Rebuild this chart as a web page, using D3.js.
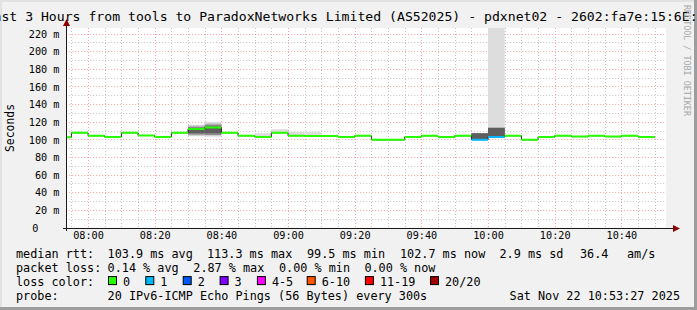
<!DOCTYPE html>
<html><head><meta charset="utf-8">
<script src="https://cdn.jsdelivr.net/npm/d3@7"></script>
<style>
body{margin:0;background:#f0f0f0}
svg{display:block}
text{font-family:"DejaVu Sans Mono",monospace}
</style>
</head><body>
<svg id="c" width="697" height="310"></svg>
<script>
// ---------- data ----------
const titleText = "Last 3 Hours from tools to ParadoxNetworks Limited (AS52025) - pdxnet02 - 2602:fa7e:15:6E::1";
const rangeStart = "07:53:27";
const rangeEnd = "10:53:27";
const stepMinutes = 5;
const intervalStarts = ["07:50","07:55","08:00","08:05","08:10","08:15","08:20","08:25","08:30","08:35",
  "08:40","08:45","08:50","08:55","09:00","09:05","09:10","09:15","09:20","09:25","09:30","09:35",
  "09:40","09:45","09:50","09:55","10:00","10:05","10:10","10:15","10:20","10:25","10:30","10:35","10:40","10:45"];
const medianMs = [102.3,107.5,104.1,102.7,107.5,104.4,102.7,107.5,111.6,113.3,
  107.5,104.1,102.7,107.5,104.1,103.7,103.9,102.7,104.1,99.5,99.5,102.7,
  104.1,102.7,104.1,99.6,102.7,104.1,99.5,102.7,104.1,103.1,104.1,103.1,104.1,102.7];
const lostPings = [0,0,0,0,0,0,0,0,0,0, 0,0,0,0,0,0,0,0,0,0,0,0, 0,0,0,1,1,0,0,0,0,0,0,0,0,0];
// smoke (ping spread) for intervals where it shows: outer -> inner bands [low, high] in ms
const smokeStarts = ["08:30","08:35","08:50","08:55","09:00","09:05","09:55","10:00"];
const smokeBand1 = [[103.5,116.5],[103,120],[102.7,107],[107.5,111.5],[104,108.5],[103.6,108.6],[99.6,107.2],[102.7,260]];
const smokeBand2 = [[104.5,115.5],[104.5,118],null,null,null,null,[99.8,107],[103,113.2]];
const smokeBand3 = [[105.5,114],[105,116.5],null,null,null,null,[100,106.9],[103.2,113.1]];
const smokeBand4 = [[107,112.5],[107,114.5],null,null,null,null,[100.2,106.8],[103.4,113]];
const yTicksMs = [0,20,40,60,80,100,120,140,160,180,200,220];
const lossLegend = ["0","1","2","3","4-5","6-10","11-19","20/20"];
const lossColors = ["#26ff00","#00b8ff","#0059ff","#7e00ff","#ff00ff","#ff5500","#ff0000","#a00000"];
const rttStats = ["103.9 ms avg","113.3 ms max","99.5 ms min","102.7 ms now","2.9 ms sd","36.4","am/s"];
const lossStats = ["0.14 % avg","2.87 % max","0.00 % min","0.00 % now"];
const probeText = "20 IPv6-ICMP Echo Pings (56 Bytes) every 300s";
const dateText = "Sat Nov 22 10:53:27 2025";

// ---------- drawing ----------
const W = 697, H = 310;
const svg = d3.select("#c");
const P = {l: 66.2, r: 666.2, t: 28, b: 227.5};
const tp = d3.timeParse("%H:%M:%S");
const T = s => tp(s.length === 5 ? s + ":00" : s);

const x = d3.scaleTime().domain([T(rangeStart), T(rangeEnd)]).range([P.l, P.r]);
const y = d3.scaleLinear().domain([0, 226.3]).range([P.b, P.t]);
const smokeColors = ["#dddddd", "#b9b9b9", "#8a8a8a", "#5e5e5e"];

// background + border
svg.append("rect").attr("width", W).attr("height", H).attr("fill", "#f1f1f1");
svg.append("rect").attr("x", 0).attr("y", 0).attr("width", W).attr("height", 2).attr("fill", "#e2e2e2");
svg.append("rect").attr("x", 0).attr("y", 0).attr("width", 2).attr("height", H).attr("fill", "#e2e2e2");
svg.append("rect").attr("x", W - 3).attr("y", 0).attr("width", 3).attr("height", H).attr("fill", "#9d9d9d");
svg.append("rect").attr("x", 0).attr("y", H - 3).attr("width", W).attr("height", 3).attr("fill", "#9d9d9d");

// canvas
svg.append("rect").attr("x", P.l).attr("y", P.t).attr("width", P.r - P.l).attr("height", P.b - P.t).attr("fill", "#ffffff");

svg.append("clipPath").attr("id", "pc").append("rect")
  .attr("x", P.l).attr("y", P.t).attr("width", P.r - P.l).attr("height", P.b - P.t);

// grid
const grid = svg.append("g");
const minorX = x.ticks(d3.timeMinute.every(5)).filter(d => d.getMinutes() % 20 !== 0);
const majorX = x.ticks(d3.timeMinute.every(20));
const r5 = v => Math.round(v) + 0.5;
grid.selectAll(".mx").data(minorX).enter().append("line")
  .attr("x1", d => r5(x(d))).attr("x2", d => r5(x(d))).attr("y1", P.t).attr("y2", P.b)
  .attr("stroke", "#c4c4c4").attr("stroke-dasharray", "1,2");
const minorY = d3.range(10, 226, 10).filter(v => v % 20 !== 0);
grid.selectAll(".my").data(minorY).enter().append("line")
  .attr("x1", P.l).attr("x2", P.r).attr("y1", d => r5(y(d))).attr("y2", d => r5(y(d)))
  .attr("stroke", "#c4c4c4").attr("stroke-dasharray", "1,2");
grid.selectAll(".Mx").data(majorX).enter().append("line")
  .attr("x1", d => r5(x(d))).attr("x2", d => r5(x(d))).attr("y1", P.t).attr("y2", P.b)
  .attr("stroke", "#f5a3a3").attr("stroke-dasharray", "1,2");
grid.selectAll(".My").data(yTicksMs.filter(v => v > 0)).enter().append("line")
  .attr("x1", P.l).attr("x2", P.r).attr("y1", d => r5(y(d))).attr("y2", d => r5(y(d)))
  .attr("stroke", "#f5a3a3").attr("stroke-dasharray", "1,2");

// smoke
const plot = svg.append("g").attr("clip-path", "url(#pc)");
const bands = [smokeBand1, smokeBand2, smokeBand3, smokeBand4];
bands.forEach((band, bi) => {
  band.forEach((b, i) => {
    if (!b) return;
    const t0 = T(smokeStarts[i]);
    const t1 = d3.timeMinute.offset(t0, stepMinutes);
    plot.append("rect")
      .attr("x", x(t0)).attr("width", x(t1) - x(t0))
      .attr("y", y(b[1])).attr("height", y(b[0]) - y(b[1]))
      .attr("fill", smokeColors[bi]);
  });
});

// median: thin dark step line, then loss-coloured segments
const pts = intervalStarts.map((s, i) => ({t0: T(s), t1: d3.timeMinute.offset(T(s), stepMinutes), v: medianMs[i], l: lostPings[i]}));
const stepData = pts.map(p => [x(p.t0), y(p.v)]);
stepData.push([x(pts[pts.length - 1].t1), y(pts[pts.length - 1].v)]);
plot.append("path").attr("d", d3.line().curve(d3.curveStepAfter)(stepData))
  .attr("fill", "none").attr("stroke", "#202020").attr("stroke-width", 1);
const lossIdx = l => l === 0 ? 0 : l === 1 ? 1 : l === 2 ? 2 : l === 3 ? 3 : l <= 5 ? 4 : l <= 10 ? 5 : l <= 19 ? 6 : 7;
plot.selectAll(".seg").data(pts).enter().append("line")
  .attr("x1", d => x(d.t0)).attr("x2", d => x(d.t1))
  .attr("y1", d => y(d.v)).attr("y2", d => y(d.v))
  .attr("stroke", d => lossColors[lossIdx(d.l)]).attr("stroke-width", 2);

// axes lines + arrows
const axisCol = "#1a1a1a", arrowCol = "#8a0000";
svg.append("line").attr("x1", 63).attr("x2", 675).attr("y1", r5(P.b)).attr("y2", r5(P.b)).attr("stroke", axisCol);
svg.append("line").attr("x1", r5(P.l)).attr("x2", r5(P.l)).attr("y1", 231).attr("y2", 24).attr("stroke", axisCol);
svg.append("path").attr("d", `M673,${r5(P.b) - 3.5}L680,${r5(P.b)}L673,${r5(P.b) + 3.5}Z`).attr("fill", arrowCol);
svg.append("path").attr("d", `M${r5(P.l) - 3.5},26L${r5(P.l)},19L${r5(P.l) + 3.5},26Z`).attr("fill", arrowCol);

// x axis labels via d3 axis
const xa = d3.axisBottom(x).tickValues(majorX).tickFormat(d3.timeFormat("%H:%M")).tickSize(0).tickPadding(0);
const gx = svg.append("g").attr("transform", `translate(0,${P.b + 4})`).call(xa);
gx.select(".domain").remove();
gx.selectAll("text").attr("font-family", "DejaVu Sans Mono").attr("font-size", "10.2px").attr("fill", "#000").attr("dy", "0.71em");

// y axis labels via d3 axis
const ya = d3.axisLeft(y).tickValues(yTicksMs).tickFormat(v => v === 0 ? "0" : v + " m").tickSize(0).tickPadding(0);
const gy = svg.append("g").attr("transform", `translate(59.5,0)`).call(ya);
gy.select(".domain").remove();
gy.selectAll("text").attr("font-family", "DejaVu Sans Mono").attr("font-size", "10.2px").attr("fill", "#000").attr("dy", "0.36em");
gy.selectAll(".tick").filter(v => v === 0).select("text").attr("x", -21);

// vertical unit label
svg.append("text").attr("transform", "translate(14,128) rotate(-90)").attr("text-anchor", "middle")
  .attr("font-size", "11.4px").attr("fill", "#000").text("Seconds");

// title
svg.append("text").attr("x", 349.5).attr("y", 21).attr("text-anchor", "middle")
  .attr("font-size", "13.15px").attr("fill", "#000").text(titleText);

// watermark
svg.append("text").attr("transform", "translate(684,5) rotate(90)")
  .attr("font-size", "8.4px").attr("fill", "#a8a8a8").text("RRDTOOL / TOBI OETIKER");

// legend
const lg = svg.append("g").attr("font-size", "11.8px").attr("fill", "#000");
const rows = [257.5, 271.8, 286.1, 300.4];
const lab = (xx, yy, s) => lg.append("text").attr("x", xx).attr("y", yy).attr("xml:space", "preserve").text(s);
lab(16, rows[0], "median rtt:");
[107.6, 207, 307, 400, 499.5, 580, 627].forEach((xx, i) => lab(xx, rows[0], rttStats[i]));
lab(16, rows[1], "packet loss:");
[107.6, 193.3, 279, 364.4].forEach((xx, i) => lab(xx, rows[1], lossStats[i]));
lab(16, rows[2], "loss color:");
const boxX = [108, 145.3, 182.7, 219.6, 256.9, 306.7, 364.9, 430];
lossLegend.forEach((s, i) => {
  lg.append("rect").attr("x", boxX[i] + 0.5).attr("y", rows[2] - 9.5).attr("width", 8).attr("height", 8)
    .attr("fill", lossColors[i]).attr("stroke", "#000").attr("stroke-width", 1);
  lab(boxX[i] + 15, rows[2], s);
});
lab(16, rows[3], "probe:");
lab(107.6, rows[3], probeText);
lab(680, rows[3], dateText).attr("text-anchor", "end");
</script>
</body></html>
